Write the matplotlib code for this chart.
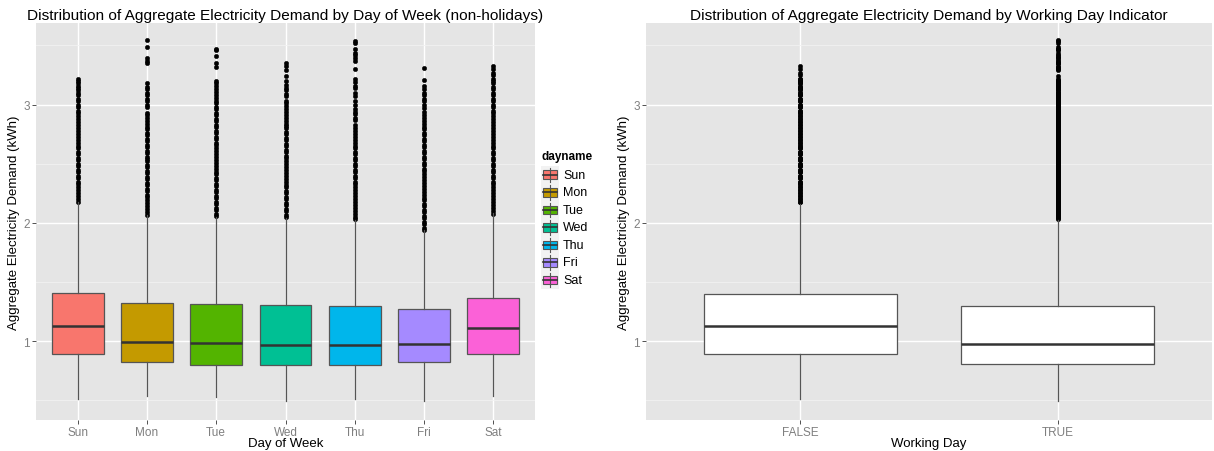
import numpy as np
import matplotlib
matplotlib.use("Agg")
import matplotlib.pyplot as plt
from matplotlib.patches import Rectangle
from matplotlib.lines import Line2D

plt.rcParams['font.family'] = ['Liberation Sans', 'DejaVu Sans']

# --- Data ---
days = ['Sun', 'Mon', 'Tue', 'Wed', 'Thu', 'Fri', 'Sat']
day_colors = ['#F8766D', '#C49A00', '#53B400', '#00C094', '#00B6EB', '#A58AFF', '#FB61D7']

day_q1 = [0.89, 0.823, 0.803, 0.803, 0.803, 0.823, 0.89]
day_med = [1.132, 0.992, 0.983, 0.972, 0.972, 0.978, 1.11]
day_q3 = [1.407, 1.323, 1.312, 1.306, 1.300, 1.272, 1.365]
day_lo = [0.514, 0.536, 0.528, 0.494, 0.514, 0.492, 0.542]
day_hi = [2.177, 2.065, 2.053, 2.045, 2.022, 1.938, 2.081]

# outliers (dense runs read as closely spaced points)
sun_out = [2.18, 2.20, 2.23, 2.25, 2.28, 2.30, 2.33, 2.35, 2.38, 2.40, 2.43, 2.45, 2.48,
           2.50, 2.53, 2.55, 2.58, 2.60, 2.63, 2.65, 2.68, 2.70, 2.73, 2.75, 2.78, 2.80,
           2.83, 2.85, 2.88, 2.90, 2.93, 2.95, 2.98, 3.00, 3.03, 3.05, 3.08, 3.10, 3.12,
           3.14, 3.16, 3.18, 3.20, 3.22]
mon_out = [2.07, 2.09, 2.12, 2.14, 2.17, 2.19, 2.22, 2.24, 2.27, 2.29, 2.32, 2.34, 2.37,
           2.39, 2.42, 2.44, 2.47, 2.49, 2.52, 2.54, 2.56, 2.59, 2.61, 2.64, 2.66, 2.69,
           2.71, 2.74, 2.76, 2.79, 2.81, 2.84, 2.86, 2.89, 2.91, 2.93, 2.98, 3.00, 3.03,
           3.05, 3.08, 3.10, 3.13, 3.15, 3.18, 3.35, 3.37, 3.39, 3.49, 3.55]
tue_out = [2.06, 2.08, 2.11, 2.13, 2.16, 2.18, 2.21, 2.23, 2.26, 2.28, 2.31, 2.33, 2.36,
           2.38, 2.41, 2.43, 2.46, 2.48, 2.51, 2.53, 2.56, 2.58, 2.61, 2.63, 2.66, 2.68,
           2.71, 2.73, 2.76, 2.78, 2.81, 2.83, 2.86, 2.88, 2.91, 2.93, 2.96, 2.98, 3.01,
           3.03, 3.06, 3.08, 3.11, 3.13, 3.16, 3.18, 3.20, 3.32, 3.35, 3.41, 3.46, 3.47]
wed_out = [2.05, 2.07, 2.10, 2.12, 2.15, 2.17, 2.20, 2.22, 2.25, 2.27, 2.30, 2.32, 2.35,
           2.37, 2.40, 2.42, 2.45, 2.47, 2.50, 2.52, 2.55, 2.57, 2.60, 2.62, 2.65, 2.67,
           2.70, 2.72, 2.75, 2.77, 2.80, 2.82, 2.84, 2.86, 2.89, 2.91, 2.94, 2.96, 2.99,
           3.01, 3.03, 3.07, 3.09, 3.12, 3.14, 3.17, 3.20, 3.24, 3.29, 3.33, 3.35]
thu_out = [2.03, 2.05, 2.08, 2.10, 2.13, 2.15, 2.18, 2.20, 2.23, 2.25, 2.28, 2.30, 2.33,
           2.35, 2.38, 2.40, 2.43, 2.45, 2.48, 2.50, 2.53, 2.55, 2.58, 2.60, 2.63, 2.65,
           2.68, 2.70, 2.73, 2.75, 2.78, 2.80, 2.83, 2.87, 2.89, 2.92, 2.94, 2.96, 3.00,
           3.03, 3.07, 3.10, 3.14, 3.16, 3.19, 3.22, 3.30, 3.37, 3.39, 3.42, 3.44, 3.47,
           3.52, 3.54]
fri_out = [1.94, 1.96, 1.99, 2.01, 2.04, 2.06, 2.09, 2.11, 2.14, 2.16, 2.19, 2.21, 2.24,
           2.26, 2.29, 2.31, 2.34, 2.36, 2.39, 2.41, 2.44, 2.46, 2.49, 2.51, 2.54, 2.56,
           2.59, 2.61, 2.64, 2.66, 2.69, 2.71, 2.74, 2.76, 2.79, 2.81, 2.84, 2.86, 2.89,
           2.91, 2.94, 2.97, 3.00, 3.03, 3.05, 3.08, 3.10, 3.13, 3.16, 3.21, 3.31]
sat_out = [2.08, 2.10, 2.13, 2.15, 2.18, 2.20, 2.23, 2.25, 2.28, 2.30, 2.33, 2.35, 2.38,
           2.40, 2.43, 2.45, 2.48, 2.50, 2.53, 2.55, 2.58, 2.60, 2.63, 2.65, 2.68, 2.70,
           2.73, 2.75, 2.78, 2.80, 2.83, 2.85, 2.88, 2.90, 2.93, 2.95, 2.98, 3.00, 3.03,
           3.05, 3.08, 3.10, 3.13, 3.15, 3.18, 3.20, 3.22, 3.25, 3.27, 3.30, 3.33]
day_out = [sun_out, mon_out, tue_out, wed_out, thu_out, fri_out, sat_out]

work = ['FALSE', 'TRUE']
work_q1 = [0.89, 0.809]
work_med = [1.126, 0.978]
work_q3 = [1.402, 1.300]
work_lo = [0.514, 0.492]
work_hi = [2.157, 2.025]
work_out = [sorted(v for v in sun_out + sat_out if v > work_hi[0]),
            sorted(v for v in mon_out + tue_out + wed_out + thu_out + fri_out if v > work_hi[1])]

# --- Style ---
BG = '#E5E5E5'
EDGE = '#333333'
TICKLAB = '#7F7F7F'
YLIM = (0.335, 3.69)

W, H = 1214, 452
fig = plt.figure(figsize=(W / 100, H / 100), dpi=100)
fig.patch.set_facecolor('white')


def make_stats(q1, med, q3, lo, hi, out):
    return [dict(q1=a, med=b, q3=c, whislo=d, whishi=e, fliers=f)
            for a, b, c, d, e, f in zip(q1, med, q3, lo, hi, out)]


def style_axes(ax, ncat, labels, xlabel, title):
    ax.set_facecolor(BG)
    for s in ax.spines.values():
        s.set_visible(False)
    ax.set_xlim(0.4, ncat + 0.6)
    ax.set_ylim(*YLIM)
    ax.set_yticks([1, 2, 3])
    ax.set_yticks([0.5, 1.5, 2.5, 3.5], minor=True)
    ax.set_xticks(np.arange(1, ncat + 1))
    ax.set_xticklabels(labels)
    ax.grid(True, which='major', color='white', lw=1.0, zorder=0)
    ax.grid(True, which='minor', axis='y', color='#F2F2F2', lw=0.6, zorder=0)
    ax.set_axisbelow(True)
    ax.tick_params(which='major', length=3, width=0.6, color=EDGE,
                   labelcolor=TICKLAB, labelsize=8.5, pad=1.5)
    ax.tick_params(which='minor', length=0)
    ax.set_xlabel(xlabel, fontsize=9.5, labelpad=-1)
    ax.set_ylabel('Aggregate Electricity Demand (kWh)', fontsize=9.5, labelpad=2)
    ax.set_title(title, fontsize=11.1, pad=3)


def draw_boxes(ax, stats, colors):
    art = ax.bxp(stats, positions=np.arange(1, len(stats) + 1), widths=0.75,
                 patch_artist=True, showcaps=False, manage_ticks=False,
                 boxprops=dict(edgecolor='#555555', linewidth=0.9),
                 medianprops=dict(color=EDGE, linewidth=1.8),
                 whiskerprops=dict(color='#555555', linewidth=0.9),
                 flierprops=dict(marker='o', markerfacecolor='black',
                                 markeredgecolor='black', markersize=3.2,
                                 markeredgewidth=0.3))
    for patch, c in zip(art['boxes'], colors):
        patch.set_facecolor(c)
    for line in art['whiskers'] + art['medians'] + art['boxes']:
        line.set_zorder(3)


# left panel
ax1 = fig.add_axes([36 / W, 1 - 421 / H, (535 - 36) / W, (421 - 24) / H])
style_axes(ax1, len(days), days, 'Day of Week',
           'Distribution of Aggregate Electricity Demand by Day of Week (non-holidays)')
draw_boxes(ax1, make_stats(day_q1, day_med, day_q3, day_lo, day_hi, day_out), day_colors)

# right panel
ax2 = fig.add_axes([646 / W, 1 - 421 / H, (1212 - 646) / W, (421 - 24) / H])
style_axes(ax2, len(work), work, 'Working Day',
           'Distribution of Aggregate Electricity Demand by Working Day Indicator')
draw_boxes(ax2, make_stats(work_q1, work_med, work_q3, work_lo, work_hi, work_out),
           ['white', 'white'])

# legend drawn in pixel positions
def px(x, y):
    return x / W, 1 - y / H

fig.text(*px(541, 157), 'dayname', fontsize=8.5, fontweight='bold', va='center', ha='left')
key = 17.5
for i, (d, c) in enumerate(zip(days, day_colors)):
    top = 167 + i * key
    x0, y0 = px(541, top + key)
    fig.add_artist(Rectangle((x0, y0), key / W, key / H, transform=fig.transFigure,
                             facecolor='#F2F2F2', edgecolor='none'))
    cx = 541 + key / 2
    fig.add_artist(Line2D([cx / W, cx / W], [1 - (top + 1.5) / H, 1 - (top + key - 1.5) / H],
                          transform=fig.transFigure, color='#555555', lw=0.8))
    bx, by = px(542.5, top + key - 4.5)
    fig.add_artist(Rectangle((bx, by), (key - 3) / W, (key - 9) / H, transform=fig.transFigure,
                             facecolor=c, edgecolor='#555555', lw=0.8))
    mid = 1 - (top + key / 2) / H
    fig.add_artist(Line2D([542.5 / W, (541 + key - 1.5) / W], [mid, mid],
                          transform=fig.transFigure, color=EDGE, lw=1.2))
    fig.text(*px(563, top + key / 2), d, fontsize=9, va='center', ha='left')

fig.savefig('out.png', dpi=100)
